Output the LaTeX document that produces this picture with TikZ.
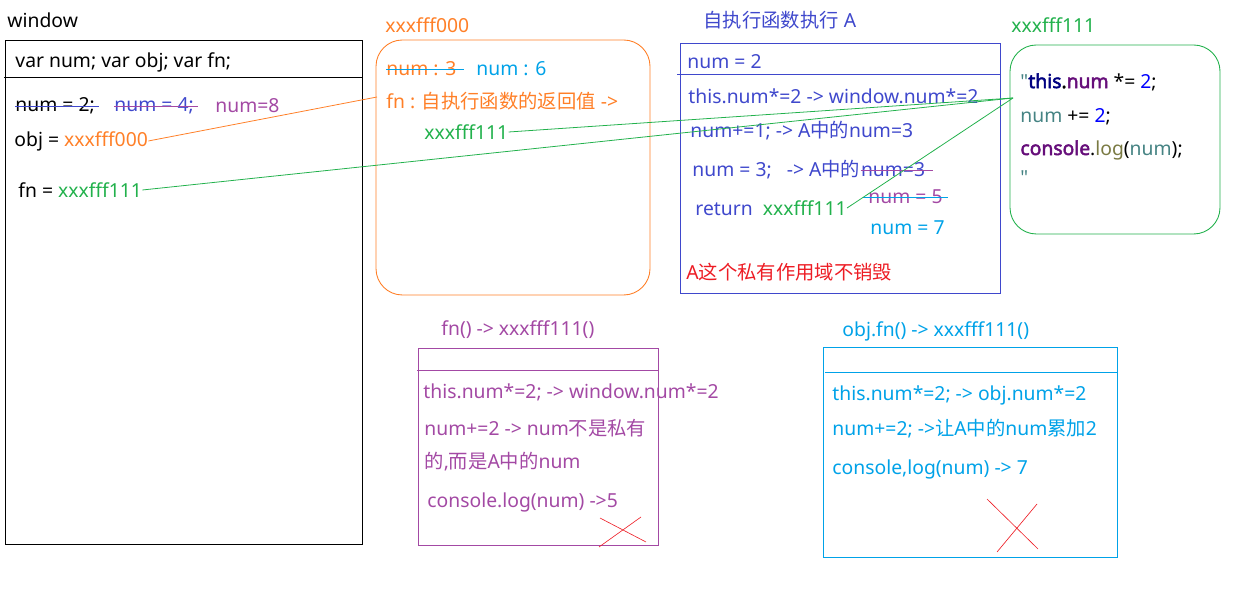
\documentclass[tikz,border=0pt]{standalone}
\usepackage{fontspec}
\setmainfont{Noto Sans}[Ligatures=TeXOff]
\newfontfamily\cjk{Noto Sans CJK SC}
\newfontfamily\codebf{Noto Sans}[Ligatures=TeXOff,FakeBold=2.5]
\usepackage{tikz}
\usetikzlibrary{arrows,positioning}
\tikzset{>=stealth'}

\definecolor{pOrange}{HTML}{FF7F27}
\definecolor{pGreen}{HTML}{22B14C}
\definecolor{pPurple}{HTML}{A349A4}
\definecolor{pCyan}{HTML}{00A2E8}
\definecolor{pIndigo}{HTML}{3F48CC}
\definecolor{pRed}{HTML}{ED1C24}
\definecolor{kwNavy}{HTML}{000080}
\definecolor{kwPurple}{HTML}{660E7A}
\definecolor{kwTeal}{HTML}{458383}
\definecolor{kwOlive}{HTML}{7A7A43}
\definecolor{kwBlue}{HTML}{0000FF}

\tikzset{
  txt/.style={anchor=west,inner sep=0pt,font=\fontsize{11}{13}\selectfont},
  strike/.style={line width=0.55pt},
  link/.style={line width=0.45pt},
  cross/.style={pRed,line width=0.35pt}
}

\begin{document}
\begin{tikzpicture}[x=0.02cm,y=-0.02cm,line width=0.5pt]
\useasboundingbox (0,0) rectangle (1260,590);

\def\boxR{15}

% window:
\node[txt] (winLabel) at (7,20) {window};
\draw (5,40) rectangle (362,544);
\draw (4,77) -- (362,77);
\node[txt] (winVar) at (15,62) {var num; var obj; var fn;};
\node[txt] (winNumA) at (15,106) {num = 2;};
\node[txt,pIndigo] (winNumB) at (114,106) {num = 4;};
\node[txt,pPurple] (winNumC) at (215,106) {num=8};
\draw[strike,pIndigo] (winNumA.west) -- ([xshift=2pt]winNumA.east);
\draw[strike,pPurple] (winNumB.west) -- ([xshift=2pt]winNumB.east);
\node[txt] (winObj) at (14,141) {obj = \textcolor{pOrange}{xxxfff000}};
\node[txt] (winFn) at (18,190) {fn = \textcolor{pGreen}{xxxfff111}};

% heap xxxfff000:
\node[txt,pOrange] (objLabel) at (385,25) {xxxfff000};
\draw[pOrange,rounded corners=\boxR] (376,40) rectangle (650,295);
\coordinate (objIn) at (377,97);
\node[txt,pOrange] (objNumA) at (386,69) {num : 3};
\node[txt,pCyan] (objNumB) at (476,69) {num : 6};
\draw[strike,pCyan] (objNumA.west) -- ([xshift=4pt]objNumA.east);
\node[txt,pOrange] (objFn) at (386,101) {fn : {\cjk 自执行函数的返回值} ->};
\node[txt,pGreen] (objAddr) at (424,132) {xxxfff111};

% scope A:
\node[txt,pIndigo] (aLabel) at (703,20) {{\cjk 自执行函数执行} A};
\draw[pIndigo] (680,43) rectangle (1000,293);
\draw[pIndigo] (677,74) -- (1000,74);
\node[txt,pIndigo] (aNum) at (687,62) {num = 2};
\node[txt,pIndigo] (aThis) at (688,96) {this.num*=2 -> window.num*=2};
\node[txt,pIndigo] (aAdd) at (690,131) {num+=1; -> A{\cjk 中的}num=3};
\node[txt,pIndigo] (aSet) at (692,170) {num = 3;~~ -> A{\cjk 中的}};
\node[txt,pIndigo,anchor=base west] (aSetOld) at (aSet.base east) {num=3};
\draw[strike,pPurple] (aSetOld.west) -- ([xshift=4pt]aSetOld.east);
\node[txt,pIndigo] (aRet) at (695,208) {return~~\textcolor{pGreen}{xxxfff111}};
\node[txt,pPurple] (aFive) at (868,197) {num = 5};
\draw[strike,pCyan] ([xshift=-3pt]aFive.west) -- ([xshift=3pt]aFive.east);
\node[txt,pCyan] (aSeven) at (870,228) {num = 7};
\node[txt,pRed] (aKeep) at (686,272) {A{\cjk 这个私有作用域不销毁}};

% heap xxxfff111:
\node[txt,pGreen] (fnLabel) at (1011,25) {xxxfff111};
\draw[pGreen,rounded corners=\boxR] (1010,45) rectangle (1220,234);
\coordinate (fnIn) at (1013,98);
\node[txt] (codeA) at (1020,82) {\textcolor{kwTeal}{"}{\codebf\textcolor{kwNavy}{this}.\textcolor{kwPurple}{num}} *= \textcolor{kwBlue}{2};};
\node[txt] (codeB) at (1020,117) {\textcolor{kwTeal}{num} += \textcolor{kwBlue}{2};};
\node[txt] (codeC) at (1020,150) {{\codebf\textcolor{kwPurple}{console}}.\textcolor{kwOlive}{log}(\textcolor{kwTeal}{num});};
\node[txt,kwTeal] (codeD) at (1020,178) {"};

% references:
\draw[link,pOrange] (winObj.east) -- (objIn);
\draw[link,pGreen] (winFn.east) -- (fnIn);
\draw[link,pGreen] (objAddr.east) -- (fnIn);
\draw[link,pGreen] (aRet.east) -- (fnIn);

% call fn():
\node[txt,pPurple] (callLabel) at (441,330) {fn() -> xxxfff111()};
\draw[pPurple] (418,348) rectangle (658,545);
\draw[pPurple] (417,370) -- (658,370);
\node[txt,pPurple] (callThis) at (423,392) {this.num*=2; -> window.num*=2};
\node[txt,pPurple] (callAdd) at (424,428) {num+=2 -> num{\cjk 不是私有}};
\node[txt,pPurple] (callAddB) at (424,462) {{\cjk 的},{\cjk 而是}A{\cjk 中的}num};
\node[txt,pPurple] (callLog) at (427,502) {console.log(num) ->5};
\draw[cross] (600,518) -- (646,542);
\draw[cross] (641,517) -- (599,547);

% call obj.fn():
\node[txt,pCyan] (objCallLabel) at (842,331) {obj.fn() -> xxxfff111()};
\draw[pCyan] (823,347) rectangle (1117,557);
\draw[pCyan] (825,372) -- (1117,372);
\node[txt,pCyan] (objCallThis) at (832,395) {this.num*=2; -> obj.num*=2};
\node[txt,pCyan] (objCallAdd) at (832,429) {num+=2; ->{\cjk 让}A{\cjk 中的}num{\cjk 累加}2};
\node[txt,pCyan] (objCallLog) at (832,469) {console,log(num) -> 7};
\draw[cross] (987,499) -- (1038,549);
\draw[cross] (1037,504) -- (997,552);

\end{tikzpicture}
\end{document}
